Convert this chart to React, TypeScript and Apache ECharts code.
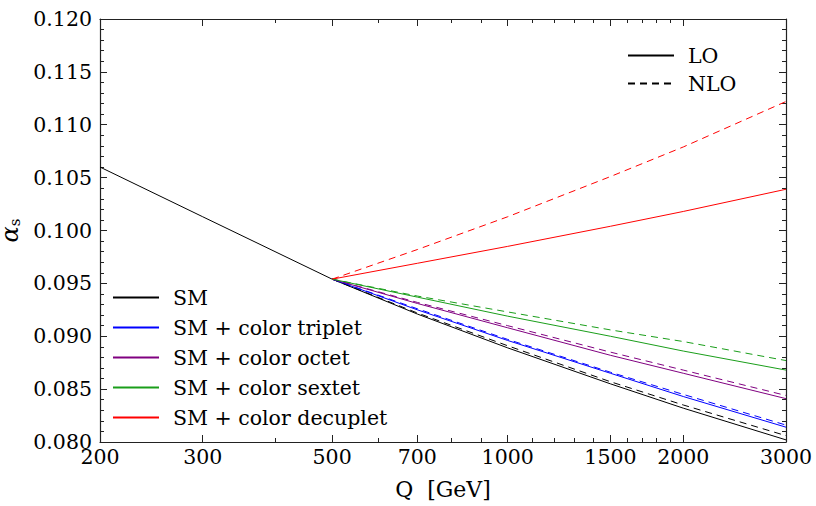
import React, { useEffect, useRef } from 'react';
import * as echarts from 'echarts';

// Q values [GeV]
const Q_SM = [200, 300, 500, 700, 1000, 1500, 2000, 3000];
const Q_BSM = [500, 700, 1000, 1500, 2000, 3000];

// alpha_s values
const SM_LO = [0.106, 0.1013, 0.0954, 0.0921, 0.0889, 0.0855, 0.0832, 0.0802];
const SM_NLO = [0.0954, 0.0922, 0.0891, 0.0857, 0.0835, 0.0806];
const TRIPLET_LO = [0.0954, 0.0925, 0.0896, 0.0865, 0.0843, 0.0814];
const TRIPLET_NLO = [0.0954, 0.0926, 0.0897, 0.0866, 0.0845, 0.0816];
const OCTET_LO = [0.0954, 0.0931, 0.0908, 0.0882, 0.0865, 0.0841];
const OCTET_NLO = [0.0954, 0.0932, 0.091, 0.0885, 0.0868, 0.0844];
const SEXTET_LO = [0.0954, 0.0937, 0.0919, 0.09, 0.0886, 0.0868];
const SEXTET_NLO = [0.0954, 0.0938, 0.0923, 0.0906, 0.0895, 0.0877];
const DECUPLET_LO = [0.0954, 0.0969, 0.0985, 0.1004, 0.1018, 0.1039];
const DECUPLET_NLO = [0.0954, 0.0982, 0.1013, 0.1051, 0.1079, 0.1122];

const MODEL_NAMES = ['SM', 'SM + color triplet', 'SM + color octet', 'SM + color sextet', 'SM + color decuplet'];
const MODEL_COLORS = ['#000000', '#0000ff', '#800080', '#1a9e1a', '#ff0000'];
const MODEL_Q = [Q_SM, Q_BSM, Q_BSM, Q_BSM, Q_BSM];
const MODEL_LO = [SM_LO, TRIPLET_LO, OCTET_LO, SEXTET_LO, DECUPLET_LO];
const MODEL_NLO_Q = [Q_BSM, Q_BSM, Q_BSM, Q_BSM, Q_BSM];
const MODEL_NLO = [SM_NLO, TRIPLET_NLO, OCTET_NLO, SEXTET_NLO, DECUPLET_NLO];

// axis ticks
const X_LABELS = [200, 300, 500, 700, 1000, 1500, 2000, 3000];
const X_MAJOR_TICKS = [300, 500, 700, 1000, 1500, 2000];
const X_MINOR_TICKS = [400, 600, 800, 900, 1100, 1200, 1300, 1400, 1600, 1700, 1800, 1900];

const FONT = 'DejaVu Serif';
const AXIS_COLOR = '#222';

function pairs(xs: number[], ys: number[]) {
  return xs.map((x, i) => [x, ys[i]]);
}

export default function App() {
  const ref = useRef<HTMLDivElement>(null);

  useEffect(() => {
    if (!ref.current) return;
    const chart = echarts.init(ref.current, undefined, { renderer: 'svg' });

    const xBase = (position: string, showLine: boolean) => ({
      type: 'log',
      logBase: 10,
      min: 200,
      max: 3000,
      position,
      gridIndex: 0,
      splitLine: { show: false },
      axisLine: { show: showLine, lineStyle: { color: AXIS_COLOR, width: 1.2 } },
    });

    const xAxes: any[] = [
      {
        ...xBase('bottom', true),
        name: 'Q  [GeV]',
        nameLocation: 'middle',
        nameGap: 36,
        nameTextStyle: { fontFamily: FONT, fontSize: 22, color: '#000' },
        axisLabel: {
          customValues: X_LABELS,
          formatter: (v: number) => String(Math.round(v)),
          fontFamily: FONT,
          fontSize: 20.5,
          color: '#000',
          margin: 4,
        },
        axisTick: { customValues: X_MAJOR_TICKS, inside: true, length: 7, lineStyle: { color: AXIS_COLOR } },
      },
      {
        ...xBase('bottom', false),
        axisLabel: { show: false },
        axisTick: { customValues: X_MINOR_TICKS, inside: true, length: 4, lineStyle: { color: AXIS_COLOR } },
      },
      {
        ...xBase('top', true),
        axisLabel: { show: false },
        axisTick: { customValues: X_MAJOR_TICKS, inside: true, length: 7, lineStyle: { color: AXIS_COLOR } },
      },
      {
        ...xBase('top', false),
        axisLabel: { show: false },
        axisTick: { customValues: X_MINOR_TICKS, inside: true, length: 4, lineStyle: { color: AXIS_COLOR } },
      },
    ];

    const yBase = (position: string) => ({
      type: 'value',
      min: 0.08,
      max: 0.12,
      interval: 0.005,
      position,
      splitLine: { show: false },
      axisLine: { show: true, lineStyle: { color: AXIS_COLOR, width: 1.2 } },
      axisTick: { show: true, inside: true, length: 7, lineStyle: { color: AXIS_COLOR } },
      minorTick: { show: true, splitNumber: 5, length: 4, lineStyle: { color: AXIS_COLOR } },
    });

    const yAxes: any[] = [
      {
        ...yBase('left'),
        name: '{a|α}{b|s}',
        nameLocation: 'middle',
        nameGap: 66,
        nameRotate: 90,
        nameTextStyle: {
          rich: {
            a: { fontFamily: FONT, fontStyle: 'italic', fontSize: 24, color: '#000', lineHeight: 24 },
            b: { fontFamily: FONT, fontSize: 15, color: '#000', lineHeight: 15, verticalAlign: 'bottom' },
          },
        },
        axisLabel: {
          formatter: (v: number) => v.toFixed(3),
          fontFamily: FONT,
          fontSize: 20.5,
          color: '#000',
          margin: 8,
        },
      },
      {
        ...yBase('right'),
        axisLabel: { show: false },
      },
    ];

    const series: any[] = [];
    MODEL_NAMES.forEach((name, i) => {
      series.push({
        name,
        type: 'line',
        xAxisIndex: 0,
        yAxisIndex: 0,
        data: pairs(MODEL_Q[i], MODEL_LO[i]),
        smooth: false,
        symbol: 'none',
        color: MODEL_COLORS[i],
        lineStyle: { color: MODEL_COLORS[i], width: 1, type: 'solid' },
      });
    });
    MODEL_NAMES.forEach((name, i) => {
      series.push({
        name,
        type: 'line',
        xAxisIndex: 0,
        yAxisIndex: 0,
        data: pairs(MODEL_NLO_Q[i], MODEL_NLO[i]),
        smooth: false,
        symbol: 'none',
        color: MODEL_COLORS[i],
        lineStyle: { color: MODEL_COLORS[i], width: 1, type: [7, 5] },
      });
    });
    series.push({
      name: 'LO',
      type: 'line',
      data: [],
      symbol: 'none',
      color: '#000',
      lineStyle: { color: '#000', width: 1, type: 'solid' },
    });
    series.push({
      name: 'NLO',
      type: 'line',
      data: [],
      symbol: 'none',
      color: '#000',
      lineStyle: { color: '#000', width: 1, type: [7, 5] },
    });

    const legendText = { fontFamily: FONT, fontSize: 20.5, color: '#000', lineHeight: 20, padding: [0, 0, 0, 9] };

    chart.setOption({
      animation: false,
      backgroundColor: '#fff',
      grid: { left: 100, right: 30, top: 19, bottom: 64, containLabel: false, outerBoundsMode: 'none' },
      xAxis: xAxes,
      yAxis: yAxes,
      legend: [
        {
          data: MODEL_NAMES,
          orient: 'vertical',
          left: 107,
          top: 282,
          itemWidth: 46,
          itemHeight: 2,
          itemGap: 9,
          selectedMode: false,
          itemStyle: { opacity: 0 },
          textStyle: legendText,
        },
        {
          data: ['LO', 'NLO'],
          orient: 'vertical',
          left: 622,
          top: 40,
          itemWidth: 46,
          itemHeight: 2,
          itemGap: 7,
          selectedMode: false,
          itemStyle: { opacity: 0 },
          textStyle: legendText,
        },
      ],
      series,
    });

    return () => chart.dispose();
  }, []);

  return (
    <div
      ref={ref}
      style={{ position: 'fixed', left: 0, top: 0, width: 816, height: 506, background: '#fff' }}
    />
  );
}
